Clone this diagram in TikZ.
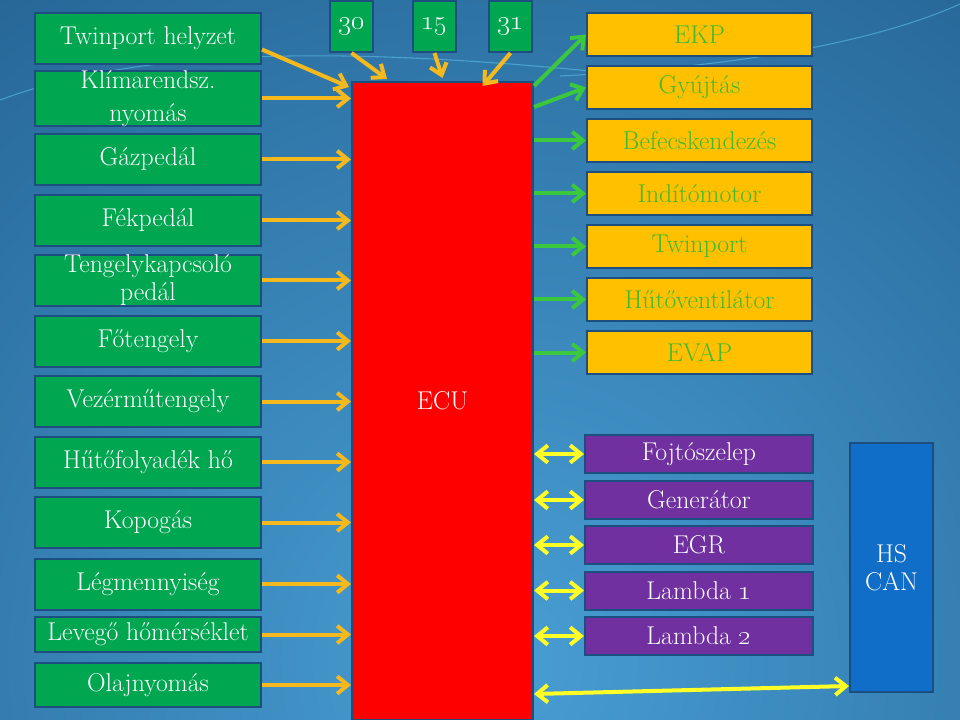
\documentclass[tikz,border=0pt]{standalone}
\usepackage{tikz}
\usetikzlibrary{arrows.meta}
\usetikzlibrary{calc}

\definecolor{bgdark}{RGB}{20,72,118}
\definecolor{bglight}{RGB}{72,158,212}
\definecolor{boxline}{RGB}{28,78,128}
\definecolor{boxgreen}{RGB}{0,166,80}
\definecolor{boxorange}{RGB}{255,192,0}
\definecolor{textgreen}{RGB}{62,186,52}
\definecolor{boxpurple}{RGB}{112,48,160}
\definecolor{canblue}{RGB}{16,110,200}
\definecolor{arrorange}{RGB}{245,185,30}
\definecolor{arrgreen}{RGB}{60,200,60}
\definecolor{arryellow}{RGB}{255,255,40}

\tikzset{
  openhead/.tip={Straight Barb[length=8pt,width=13pt]},
  box/.style={draw=boxline, line width=1.5pt, inner sep=0pt, align=center,
    font=\fontsize{19.3}{21}\selectfont},
  inbox/.style={box, fill=boxgreen, text=white, minimum width=169.5pt},
  pinbox/.style={box, fill=boxgreen, text=white, minimum width=32.25pt, minimum height=38.25pt},
  outbox/.style={box, fill=boxorange, text=textgreen, minimum width=168.75pt, minimum height=32.25pt},
  actbox/.style={box, fill=boxpurple, text=white, minimum width=171pt, minimum height=28.5pt},
  inarrow/.style={draw=arrorange, line width=3pt, -{openhead}},
  outarrow/.style={draw=arrgreen, line width=3pt, -{openhead}},
  busarrow/.style={draw=arryellow, line width=3pt, {openhead}-{openhead}},
  swoosh/.style={draw=cyan!60!white, line width=0.8pt, opacity=0.5}
}

\begin{document}
\begin{tikzpicture}[x=0.75pt, y=-0.75pt]
    \useasboundingbox (0,0) rectangle (960,720);
    % background
    \begin{scope}
        \clip (0,0) rectangle (960,720);
        \fill[bgdark] (0,0) rectangle (960,720);
        \shade[inner color=bglight, outer color=bgdark] (500,660) circle (1300);
        \draw[swoosh] (0,100) .. controls (120,55) and (300,42) .. (600,72);
        \draw[swoosh] (560,76) .. controls (750,66) and (880,40) .. (960,4);
    \end{scope}

    % sensors
    \foreach \n/\y/\h/\t in {1/38.5/38.25/Twinport helyzet,
            2/98.5/38.25/{Klímarendsz.\\[3.5pt]nyomás},
            3/159.5/38.25/Gázpedál, 4/220.5/38.25/Fékpedál,
            5/280.5/38.25/{Tengelykapcsoló\\pedál},
            6/341/38.25/Főtengely, 7/401.5/38.25/Vezérműtengely,
            8/462/38.25/Hűtőfolyadék hő, 9/522.5/38.25/Kopogás,
            10/584/38.25/Légmennyiség, 11/634.5/26.25/Levegő hőmérséklet,
            12/685/33/Olajnyomás} {
        \node[inbox, minimum height=\h pt] (in\n) at (148,\y) {\t};
    }

    % terminals
    \foreach \k/\x in {30/351.5,15/434.5,31/510.5} {
        \node[pinbox] (pin\k) at (\x,26.5) {\oldstylenums{\k}};
    }

    % actuators
    \foreach \n/\y/\t in {1/34.5/EKP, 2/87.5/Gyújtás, 3/140.5/Befecskendezés,
            4/193.5/Indítómotor, 5/246.5/Twinport, 6/299.5/Hűtőventilátor,
            7/352.5/EVAP} {
        \node[outbox] (out\n) at (699.5,\y) {\t};
    }

    % bidirectional
    \foreach \n/\y/\t in {1/454/Fojtószelep, 2/500/Generátor, 3/545/EGR,
            4/590.5/Lambda \oldstylenums{1}, 5/636/Lambda \oldstylenums{2}} {
        \node[actbox] (act\n) at (699,\y) {\t};
    }

    \node[box, fill=canblue, text=white, minimum width=62.25pt, minimum height=186.75pt]
        (can) at (891.5,567.5) {HS\\CAN};

    \node[box, fill=red, text=white, minimum width=135.75pt, minimum height=478.5pt]
        (ecu) at (442.5,401) {ECU};

    % connectors
    \draw[inarrow] ($(in1.east)+(0,11)$) -- ($(ecu.north west)+(-2,6)$);
    \foreach \n in {2,...,12} {
        \draw[inarrow] (in\n.east) -- (in\n.east -| ecu.west);
    }
    \draw[inarrow] (pin30.south) -- ($(ecu.north west)+(36,-2)$);
    \draw[inarrow] (pin15.south) -- ($(ecu.north)+(0,-3)$);
    \draw[inarrow] (pin31.south) -- ($(ecu.north)+(40,5)$);

    \draw[outarrow] ($(ecu.north east)+(0,5)$) -- (out1.west);
    \draw[outarrow] ($(ecu.north east)+(0,26)$) -- (out2.west);
    \foreach \n in {3,...,7} {
        \draw[outarrow] (out\n.west -| ecu.east) -- (out\n.west);
    }

    \foreach \n in {1,...,5} {
        \draw[busarrow] (act\n.west -| ecu.east) -- (act\n.west);
    }
    \draw[busarrow] ($(can.south west -| ecu.east)+(0,1)$) -- ($(can.south west)+(0,-7)$);
\end{tikzpicture}
\end{document}
